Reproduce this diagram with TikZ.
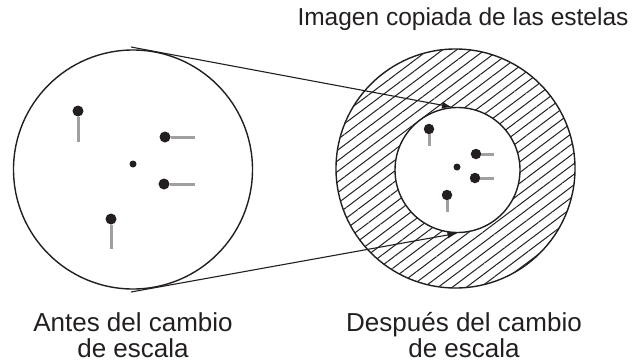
\documentclass[tikz,border=0pt]{standalone}
\usepackage{fontspec}
\setmainfont{Liberation Sans}
\definecolor{InkBlack}{RGB}{35,31,32}
\definecolor{StemGray}{RGB}{160,160,160}
\usetikzlibrary{
    arrows.meta,
    patterns.meta,
    positioning,
}

\begin{document}
\begin{tikzpicture}[
        x=1pt, y=-1pt,
        ring/.style={circle, draw=InkBlack, line width=1.4pt, inner sep=0pt, minimum size=#1},
        bigdot/.style={circle, fill=InkBlack, inner sep=0pt, minimum size=#1},
        smalldot/.style={circle, fill=InkBlack, inner sep=0pt, minimum size=7pt},
        stem/.style={draw=StemGray, line width=3pt},
        link/.style={draw=InkBlack, line width=1.1pt, -{Latex[length=10pt, width=7pt]}},
        caption/.style={font=\fontsize{26}{25.5}\selectfont, text=InkBlack, align=center, anchor=base},
    ]
    \useasboundingbox (0,0) rectangle (639,362);

    % before scaling
    \node[ring=239pt] (before) at (133,169.5) {};
    \node[smalldot] (lc) at (133,164) {};
    \node[bigdot=11pt] (l1) at (78,111) {};
    \node[bigdot=11pt] (l2) at (165,137) {};
    \node[bigdot=11pt] (l3) at (164,184) {};
    \node[bigdot=11pt] (l4) at (111,219) {};
    \coordinate (l1end) at (78,142);
    \coordinate (l2end) at (195,137);
    \coordinate (l3end) at (195,184);
    \coordinate (l4end) at (111,249);
    \draw[stem] (l1.south) -- (l1end);
    \draw[stem] (l2.east) -- (l2end);
    \draw[stem] (l3.east) -- (l3end);
    \draw[stem] (l4.south) -- (l4end);

    % after scaling
    \node[ring=239pt, pattern={Lines[angle=37, distance=8.5pt, line width=1pt]}, pattern color=InkBlack] (after) at (455.5,168.5) {};
    \node[ring=125pt, fill=white] (inner) at (457.5,170) {};
    \node[smalldot] (rc) at (457,167) {};
    \node[bigdot=10.5pt] (r1) at (429,129) {};
    \node[bigdot=10.5pt] (r2) at (476,154) {};
    \node[bigdot=10.5pt] (r3) at (475,178) {};
    \node[bigdot=10.5pt] (r4) at (447,195) {};
    \coordinate (r1end) at (429,146);
    \coordinate (r2end) at (494,154);
    \coordinate (r3end) at (494,178);
    \coordinate (r4end) at (447,212);
    \draw[stem] (r1.south) -- (r1end);
    \draw[stem] (r2.east) -- (r2end);
    \draw[stem] (r3.east) -- (r3end);
    \draw[stem] (r4.south) -- (r4end);

    % tangents
    \coordinate (topfrom) at (131,47);
    \coordinate (botfrom) at (131,292);
    \draw[link] (topfrom) -- (inner.95);
    \draw[link] (botfrom) -- (inner.south);

    \node[caption] (capbefore) at (133,357) {Antes del cambio\\de escala};
    \node[caption] (capafter) at (464,357) {Después del cambio\\de escala};
    \node[caption, font=\fontsize{24.5}{28}\selectfont] (title) at (463,25) {Imagen copiada de las estelas};
\end{tikzpicture}
\end{document}
